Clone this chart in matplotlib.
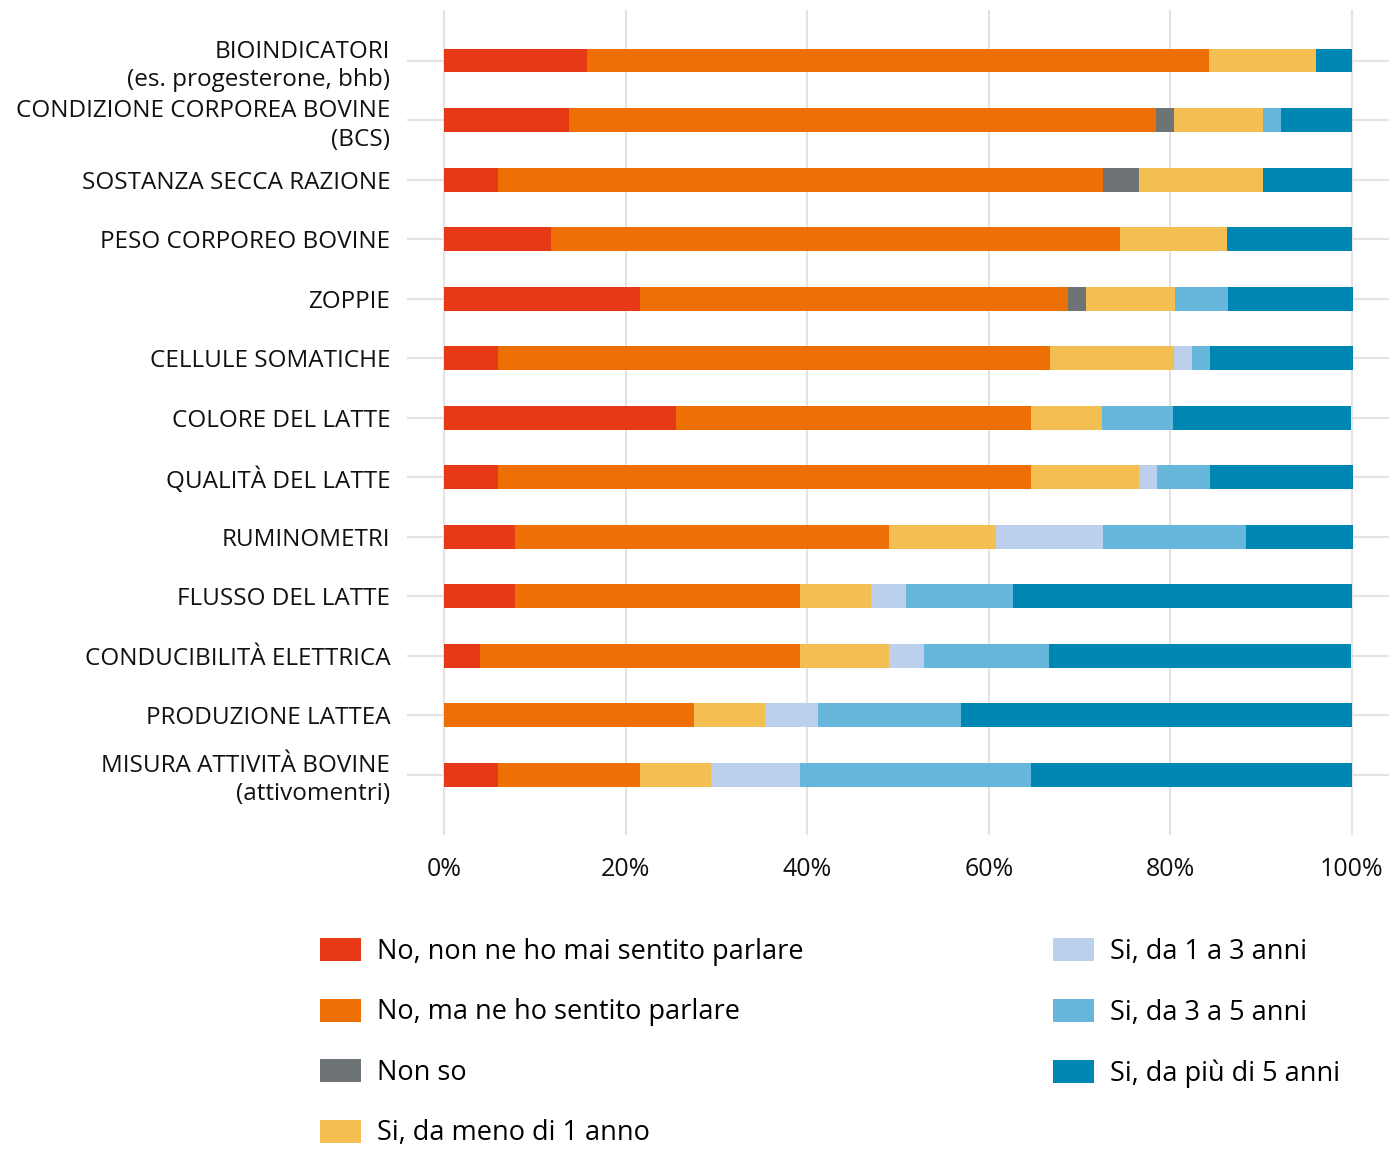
import numpy as np
import matplotlib
matplotlib.use('Agg')
import matplotlib.pyplot as plt
from matplotlib.patches import Patch

plt.rcParams['font.family'] = ['Open Sans', 'DejaVu Sans']

# Categories, top to bottom
categories = [
    'BIOINDICATORI\n(es. progesterone, bhb)',
    'CONDIZIONE CORPOREA BOVINE\n(BCS)',
    'SOSTANZA SECCA RAZIONE',
    'PESO CORPOREO BOVINE',
    'ZOPPIE',
    'CELLULE SOMATICHE',
    'COLORE DEL LATTE',
    'QUALITÀ DEL LATTE',
    'RUMINOMETRI',
    'FLUSSO DEL LATTE',
    'CONDUCIBILITÀ ELETTRICA',
    'PRODUZIONE LATTEA',
    'MISURA ATTIVITÀ BOVINE\n(attivomentri)',
]

# Percentages per answer (same order as categories)
mai_sentito = [15.7, 13.7, 5.9, 11.8, 21.6, 5.9, 25.5, 5.9, 7.8, 7.8, 3.9, 0.0, 5.9]
sentito = [68.6, 64.7, 66.7, 62.7, 47.1, 60.8, 39.2, 58.8, 41.2, 31.4, 35.3, 27.5, 15.7]
non_so = [0.0, 2.0, 3.9, 0.0, 2.0, 0.0, 0.0, 0.0, 0.0, 0.0, 0.0, 0.0, 0.0]
meno_1 = [11.8, 9.8, 13.7, 11.8, 9.8, 13.7, 7.8, 11.8, 11.8, 7.8, 9.8, 7.8, 7.8]
da_1_3 = [0.0, 0.0, 0.0, 0.0, 0.0, 2.0, 0.0, 2.0, 11.8, 3.9, 3.9, 5.9, 9.8]
da_3_5 = [0.0, 2.0, 0.0, 0.0, 5.9, 2.0, 7.8, 5.9, 15.7, 11.8, 13.7, 15.7, 25.5]
oltre_5 = [3.9, 7.8, 9.8, 13.7, 13.7, 15.7, 19.6, 15.7, 11.8, 37.3, 33.3, 43.1, 35.3]

series_labels = [
    'No, non ne ho mai sentito parlare',
    'No, ma ne ho sentito parlare',
    'Non so',
    'Si, da meno di 1 anno',
    'Si, da 1 a 3 anni',
    'Si, da 3 a 5 anni',
    'Si, da più di 5 anni',
]
colors = ['#E63915', '#EC7004', '#6E7476', '#F3BE52', '#BAD0EC', '#67B7DC', '#0086B2']

series = [mai_sentito, sentito, non_so, meno_1, da_1_3, da_3_5, oltre_5]

W, H = 1389, 1149
fig = plt.figure(figsize=(W / 100, H / 100), dpi=100)
ax = fig.add_axes([407 / W, 1 - 835 / H, (1389 - 407) / W, (835 - 10) / H])

y = np.arange(len(categories))
left = np.zeros(len(categories))
for vals, col in zip(series, colors):
    vals = np.array(vals) / 100
    ax.barh(y, vals, left=left, height=0.4, color=col, zorder=3)
    left += vals

ax.set_xlim(-0.041, 1.041)
ax.set_ylim(len(categories) - 1 + 1.01, -0.85)

ax.set_xticks([0, 0.2, 0.4, 0.6, 0.8, 1.0])
ax.set_xticklabels(['0%', '20%', '40%', '60%', '80%', '100%'], fontsize=18, color='#111111')
ax.set_yticks(y)
ax.set_yticklabels(categories, fontsize=17.5, color='#111111', linespacing=1.25)
ax.tick_params(axis='both', length=0)
ax.tick_params(axis='y', pad=12)
ax.tick_params(axis='x', pad=16)

ax.grid(True, color='#E3E3E3', linewidth=1.5, zorder=0)
for s in ax.spines.values():
    s.set_visible(False)

handles = [Patch(facecolor=c) for c in colors]
leg_kw = dict(frameon=False, fontsize=19.5, handlelength=1.5, handleheight=0.95,
              handletextpad=0.6, labelspacing=1.2, borderpad=0, borderaxespad=0,
              loc='upper left')
leg1 = fig.legend(handles[:4], series_labels[:4],
                  bbox_to_anchor=(320 / W, 1 - 938 / H), **leg_kw)
leg2 = fig.legend(handles[4:], series_labels[4:],
                  bbox_to_anchor=(1053 / W, 1 - 938 / H), **leg_kw)

fig.savefig('out.png', dpi=100, facecolor='white')
